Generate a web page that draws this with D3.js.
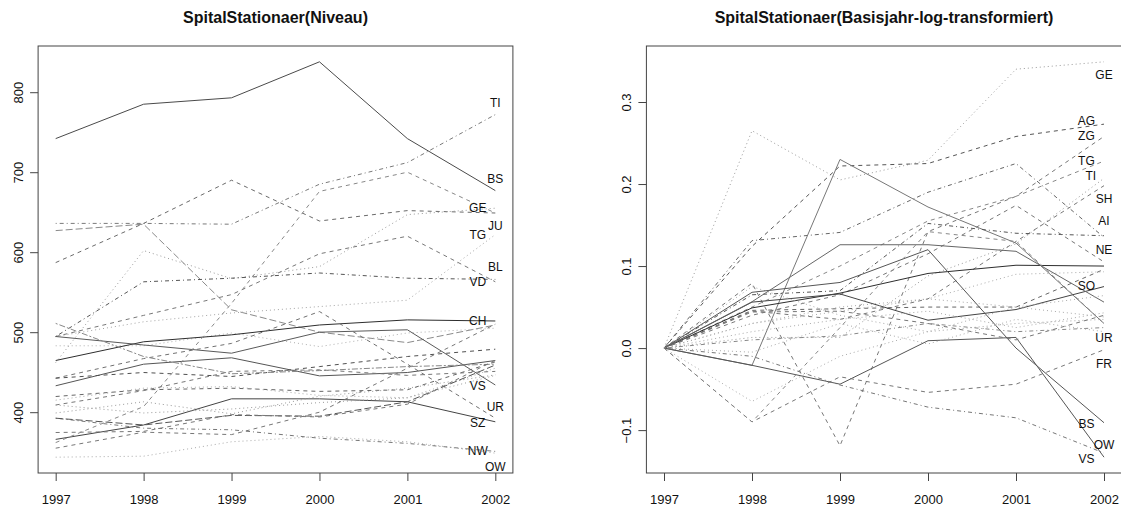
<!DOCTYPE html>
<html><head><meta charset="utf-8">
<script src="https://cdn.jsdelivr.net/npm/d3@7"></script>
<style>body{margin:0;background:#fff}svg{display:block}</style>
</head><body>
<svg id="c" width="1121" height="509"></svg>
<script>
const years = [1997, 1998, 1999, 2000, 2001, 2002];

// ---- Left panel: levels ----
const levelValues = [
  [742, 785, 793, 838, 742, 677],
  [636, 636, 635, 685, 712, 772],
  [587, 636, 690, 639, 652, 649],
  [627, 635, 528, 500, 487, 509],
  [462, 602, 567, 582, 647, 655],
  [494.6, 513, 524, 532, 540, 622],
  [494.6, 563, 567.5, 574, 567.5, 566],
  [494.6, 521, 547, 598, 620, 563],
  [483, 483, 499, 482, 499, 505],
  [464.6, 488, 496.7, 509, 515.4, 514],
  [494.6, 484, 473.75, 500, 503, 434],
  [442.5, 467, 486, 525.8, 460, 392.5],
  [433, 460, 468, 445.4, 449.6, 464.6],
  [442.5, 449.6, 444.6, 457, 469.6, 478.75],
  [511, 469.6, 448, 452, 457, 460],
  [366, 384, 416.7, 416.7, 413, 388],
  [343.75, 345, 363, 369.6, 363, 348.75],
  [392.5, 380, 378, 367.5, 361, 351],
  [419.6, 428, 430, 426, 428, 463],
  [415, 430, 432, 421, 418, 455],
  [409, 427, 451, 453, 446, 451],
  [399, 413, 398, 420, 430, 446.7],
  [392.5, 384, 396, 395, 413, 459],
  [374.6, 376, 397, 394, 410, 465],
  [362, 407, 536, 676, 700, 649],
  [409, 399, 404, 412, 418, 446],
  [355, 375, 372, 400, 455, 510]
];
const levelTicks = [400, 500, 600, 700, 800];
const levelLabelNames = ["TI","BS","GE","JU","TG","BL","VD","CH","VS","UR","SZ","NW","OW"];
const levelLabelX = [2002, 2002, 2001.8, 2002, 2001.8, 2002, 2001.8, 2001.8, 2001.8, 2002, 2001.8, 2001.8, 2002];
const levelLabelY = [787, 692, 655, 633, 622, 582, 563, 514.5, 433, 407, 387, 351, 332];

// ---- Right panel: log change vs base year ----
const logValues = [
  [0, 0.265, 0.205, 0.229, 0.340, 0.349],
  [0, 0.124, 0.222, 0.225, 0.258, 0.273],
  [0, 0.131, 0.141, 0.190, 0.225, 0.135],
  [0, -0.021, 0.230, 0.172, 0.128, 0.030],
  [0, 0.079, -0.119, 0.142, 0.185, 0.258],
  [0, 0.050, 0.100, 0.155, 0.185, 0.228],
  [0, 0.013, 0.013, 0.088, 0.127, 0.207],
  [0, 0.045, 0.035, 0.060, 0.130, 0.198],
  [0, 0.065, 0.070, 0.152, 0.140, 0.137],
  [0, 0.040, 0.065, 0.115, 0.174, 0.105],
  [0, 0.049, 0.067, 0.091, 0.101, 0.100],
  [0, 0.046, 0.048, 0.050, 0.050, 0.096],
  [0, 0.030, 0.050, 0.060, 0.090, 0.093],
  [0, 0.056, 0.066, 0.034, 0.047, 0.075],
  [0, 0.075, 0.040, 0.020, 0.050, 0.038],
  [0, -0.021, -0.044, 0.009, 0.013, -0.133],
  [0, 0.068, 0.080, 0.120, 0.000, -0.091],
  [0, 0.0565, 0.126, 0.126, 0.118, 0.056],
  [0, 0.030, 0.045, 0.060, 0.050, 0.064],
  [0, -0.090, -0.035, -0.054, -0.044, -0.002],
  [0, -0.065, -0.010, 0.020, 0.030, 0.035],
  [0, 0.020, 0.035, 0.045, 0.025, 0.043],
  [0, 0.010, 0.015, 0.030, 0.020, 0.025],
  [0, 0.044, 0.045, 0.030, 0.010, 0.040],
  [0, -0.005, 0.030, 0.005, 0.035, 0.020],
  [0, -0.090, 0.025, 0.142, 0.130, 0.030],
  [0, -0.010, -0.045, -0.072, -0.085, -0.128]
];
const logTicks = [-0.1, 0, 0.1, 0.2, 0.3];
const logLabelNames = ["GE","AG","ZG","TG","TI","SH","AI","NE","SO","UR","FR","BS","OW","VS"];
const logLabelX = [2002, 2001.8, 2001.8, 2001.8, 2001.85, 2002, 2002, 2002, 2001.8, 2002, 2002, 2001.8, 2002, 2001.8];
const logLabelY = [0.333, 0.2765, 0.2585, 0.228, 0.210, 0.182, 0.155, 0.120, 0.076, 0.012, -0.020, -0.092, -0.118, -0.135];

// ---- Styles (kept apart from data) ----
const dashes = {solid: null, dashed: "4,4", dotted: "1,3", dotdash: "1,3,4,3", longdash: "7,3", twodash: "2,2,6,2"};
const levelTypes = ["solid","dotdash","dashed","longdash","dotted","dotted","dotdash","dashed","dotted","solid",
  "solid","dashed","solid","dashed","twodash","solid","dotted","dotdash","dashed","dotted","dashed","dotted",
  "longdash","dashed","dashed","dotted","dashed"];
const levelColors = ["#4a4a4a","#7a7a7a","#6a6a6a","#8a8a8a","#9a9a9a","#a5a5a5","#555555","#777777","#b0b0b0","#2e2e2e",
  "#5a5a5a","#707070","#555555","#505050","#888888","#444444","#aaaaaa","#777777","#666666","#aaaaaa","#777777","#999999",
  "#555555","#777777","#888888","#999999","#777777"];
const logTypes = ["dotted","dashed","dotdash","solid","dashed","dashed","dotted","dashed","dotdash","dashed","solid",
  "dashed","dotted","solid","dotted","solid","solid","solid","dotted","dashed","dotted","dotted","dotdash","dashed",
  "dotted","dashed","dotdash"];
const logColors = ["#9a9a9a","#555555","#666666","#777777","#777777","#888888","#999999","#777777","#555555","#777777","#2e2e2e",
  "#666666","#aaaaaa","#444444","#aaaaaa","#555555","#555555","#666666","#aaaaaa","#777777","#aaaaaa","#aaaaaa","#888888","#777777",
  "#aaaaaa","#888888","#777777"];

const FONT = "'Liberation Sans', Arial, Helvetica, sans-serif";
const svg = d3.select("#c");

function drawPanel(cfg) {
  const {left, right, top, bottom, values, types, colors, ticks, fmt, title, lNames, lX, lY} = cfg;
  const [lo, hi] = d3.extent(values.flat());
  const pad = (hi - lo) * 0.04;
  const y = d3.scaleLinear().domain([lo - pad, hi + pad]).range([bottom, top]);
  const [x0, x1] = d3.extent(years);
  const xpad = (x1 - x0) * 0.04;
  const x = d3.scaleLinear().domain([x0 - xpad, x1 + xpad]).range([left, right]);
  const g = svg.append("g");

  const line = d3.line().x((d, i) => x(years[i])).y(d => y(d));
  g.append("g").selectAll("path").data(values).join("path")
    .attr("d", line).attr("fill", "none")
    .attr("stroke", (d, i) => colors[i]).attr("stroke-width", 1)
    .attr("stroke-dasharray", (d, i) => dashes[types[i]]);

  g.append("rect").attr("x", left).attr("y", top)
    .attr("width", right - left).attr("height", bottom - top)
    .attr("fill", "none").attr("stroke", "#444").attr("stroke-width", 1);

  const xa = g.append("g").attr("transform", `translate(0,${bottom})`)
    .call(d3.axisBottom(x).tickValues(years).tickFormat(d3.format("d")).tickSize(8).tickPadding(14));
  xa.select(".domain").remove();
  xa.attr("font-family", FONT).attr("font-size", 13);
  xa.selectAll("line").attr("stroke", "#444");
  xa.selectAll("text").attr("fill", "#111");

  const ya = g.append("g").attr("transform", `translate(${left},0)`)
    .call(d3.axisLeft(y).tickValues(ticks).tickFormat(fmt).tickSize(8));
  ya.select(".domain").remove();
  ya.attr("font-family", FONT).attr("font-size", 13);
  ya.selectAll("line").attr("stroke", "#444");
  ya.selectAll("text").attr("fill", "#111").attr("transform", "rotate(-90)")
    .attr("x", 0).attr("y", -15.6).attr("dy", null).attr("text-anchor", "middle");

  g.append("g").selectAll("text").data(lNames).join("text")
    .attr("x", (d, i) => x(lX[i])).attr("y", (d, i) => y(lY[i]))
    .attr("text-anchor", "middle").attr("dominant-baseline", "central")
    .attr("font-family", FONT).attr("font-size", 12).attr("fill", "#111")
    .text(d => d);

  g.append("text").attr("x", (left + right) / 2).attr("y", 23)
    .attr("text-anchor", "middle").attr("font-family", FONT)
    .attr("font-weight", "bold").attr("font-size", 16).attr("fill", "#111")
    .text(title);
}

drawPanel({left: 38.1, right: 512.9, top: 46, bottom: 473, values: levelValues,
  types: levelTypes, colors: levelColors, ticks: levelTicks, fmt: d3.format("d"),
  title: "SpitalStationaer(Niveau)", lNames: levelLabelNames, lX: levelLabelX, lY: levelLabelY});
drawPanel({left: 646.4, right: 1121.6, top: 46, bottom: 473, values: logValues,
  types: logTypes, colors: logColors, ticks: logTicks, fmt: d3.format(".1f"),
  title: "SpitalStationaer(Basisjahr-log-transformiert)", lNames: logLabelNames, lX: logLabelX, lY: logLabelY});
</script>
</body></html>
